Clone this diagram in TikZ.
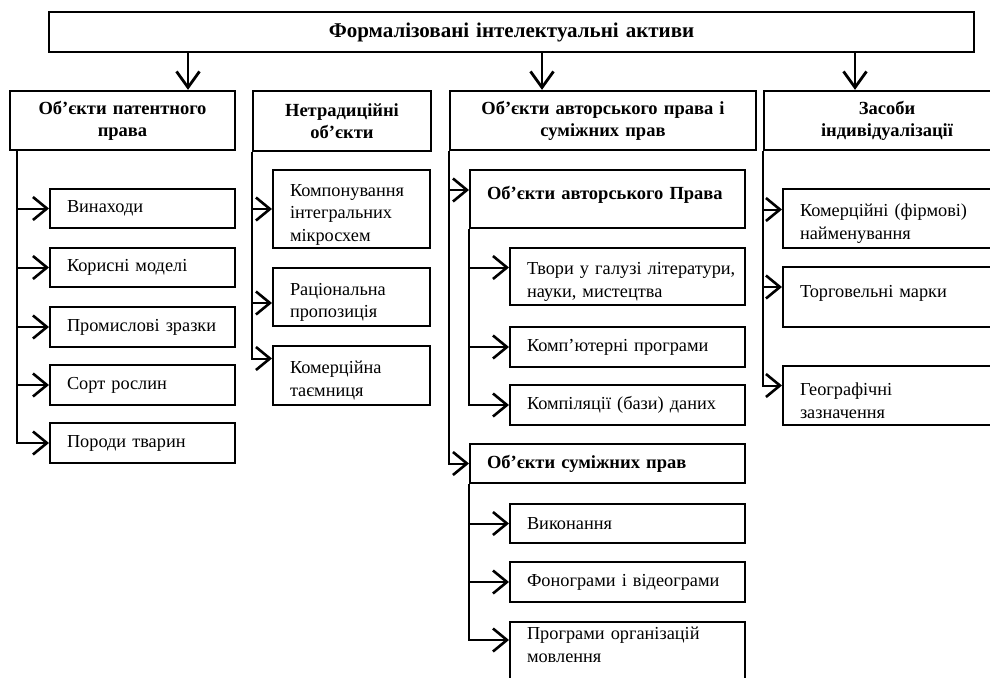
\documentclass[tikz,border=0pt]{standalone}
\usepackage{fontspec}
\setmainfont{Liberation Serif}
\usetikzlibrary{arrows.meta}
\newcommand\bxnode[7]{%
  \pgfmathsetmacro\bxw{#4-#2}%
  \pgfmathsetmacro\bxh{#5-#3}%
  \pgfmathsetmacro\bxtw{#4-#2-34}%
  \pgfmathsetmacro\bxhw{#4-#2-12}%
  \pgfmathsetmacro\bxcx{(#2+#4)/2}%
  \pgfmathsetmacro\bxcy{(#3+#5)/2}%
  \node[#6, minimum width=\bxw pt, minimum height=\bxh pt] (#1) at (\bxcx,\bxcy) {#7};}
\newcommand\tp{\rule{0pt}{23pt}}
\tikzset{
  boxbase/.style={draw, line width=2.3pt, inner ysep=0pt},
  head/.style={boxbase, text width=\bxhw pt, inner xsep=6pt, align=center,
    font=\fontsize{18.5}{22}\selectfont\bfseries},
  title/.style={head, font=\fontsize{21}{24}\selectfont\bfseries},
  sub/.style={boxbase, line width=2pt, text width=\bxtw pt, inner xsep=17pt, align=left,
    font=\fontsize{18.3}{22.5}\selectfont},
  subb/.style={sub, font=\fontsize{18.5}{22}\selectfont\bfseries},
  arr/.style={line width=2pt, -{Straight Barb[length=14pt,width=23pt,line width=2.6pt]}},
  darr/.style={line width=2.3pt, -{Straight Barb[length=16pt,width=23pt,line width=2.8pt]}},
}
\begin{document}
\begin{tikzpicture}[x=1pt,y=-1pt]
\clip (0,0) rectangle (990,677);
\fill[white] (0,0) rectangle (990,677);
% top
\bxnode{top}{49}{12}{974}{52}{title}{Формалізовані інтелектуальні активи}
% level 2
\bxnode{p1}{10}{91}{235}{150}{head}{Об’єкти патентного\\права}
\bxnode{p2}{253}{91}{431}{151}{head}{Нетрадиційні\\об’єкти}
\bxnode{p3}{450}{91}{756}{150}{head}{Об'єкти авторського права і\\суміжних прав}
\bxnode{p4}{764}{91}{1010}{150}{head}{Засоби\\індивідуалізації}
\coordinate (dx1) at (188,0);
\coordinate (dx2) at (542,0);
\coordinate (dx3) at (855,0);
\draw[darr] (top.south -| dx1) -- (p1.north -| dx1);
\draw[darr] (top.south -| dx2) -- (p3.north -| dx2);
\draw[darr] (top.south -| dx3) -- (p4.north -| dx3);
% column 1
\bxnode{c11}{50}{189}{235}{228}{sub}{Винаходи}
\bxnode{c12}{50}{248}{235}{287}{sub}{Корисні моделі}
\bxnode{c13}{50}{307}{235}{347}{sub}{Промислові зразки}
\bxnode{c14}{50}{365}{235}{405}{sub}{Сорт рослин}
\bxnode{c15}{50}{423}{235}{463}{sub}{Породи тварин}
\foreach \c in {c11,c12,c13,c14,c15}
  \draw[arr] ([xshift=8pt]p1.south west) |- (\c.west);
% column 2
\bxnode{c21}{273}{170}{430}{248}{sub}{\tp Компонування\\інтегральних\\мікросхем}
\bxnode{c22}{273}{268}{430}{326}{sub}{\tp Раціональна\\пропозиція}
\bxnode{c23}{273}{346}{430}{405}{sub}{\tp Комерційна\\таємниця}
\draw[arr] (p2.south west) |- (c21.west);
\draw[arr] (p2.south west) |- ([yshift=-6pt]c22.west);
\draw[arr] (p2.south west) |- ([yshift=17pt]c23.west);
% column 3
\bxnode{a1}{470}{170}{745}{228}{subb}{\tp Об’єкти авторського Права\\\mbox{}}
\bxnode{b11}{510}{248}{745}{305}{sub}{\tp\mbox{Твори у галузі літератури,}\\науки, мистецтва}
\bxnode{b12}{510}{327}{745}{367}{sub}{Комп’ютерні програми}
\bxnode{b13}{510}{385}{745}{425}{sub}{Компіляції (бази) даних}
\bxnode{a2}{470}{444}{745}{483}{subb}{Об’єкти суміжних прав}
\bxnode{b21}{510}{504}{745}{543}{sub}{Виконання}
\bxnode{b22}{510}{562}{745}{602}{sub}{Фонограми і відеограми}
\bxnode{b23}{510}{622}{745}{690}{sub}{Програми організацій\\мовлення\\\mbox{}}
\draw[arr] (p3.south west) |- ([yshift=9pt]a1.west);
\draw[arr] (p3.south west) |- (a2.west);
\draw[arr] (a1.south west) |- ([yshift=9pt]b11.west);
\draw[arr] (a1.south west) |- (b12.west);
\draw[arr] (a1.south west) |- (b13.west);
\draw[arr] (a2.south west) |- (b21.west);
\draw[arr] (a2.south west) |- (b22.west);
\draw[arr] (a2.south west) |- ([yshift=16pt]b23.west);
% column 4
\bxnode{c41}{783}{189}{1010}{248}{sub}{\tp Комерційні (фірмові)\\найменування}
\bxnode{c42}{783}{267}{1010}{327}{sub}{\tp Торговельні марки\\\mbox{}}
\bxnode{c43}{783}{366}{1010}{425}{sub}{\tp Географічні\\зазначення}
\draw[arr] (p4.south west) |- ([yshift=9pt]c41.west);
\draw[arr] (p4.south west) |- ([yshift=10pt]c42.west);
\draw[arr] (p4.south west) |- ([yshift=10pt]c43.west);
\end{tikzpicture}
\end{document}
